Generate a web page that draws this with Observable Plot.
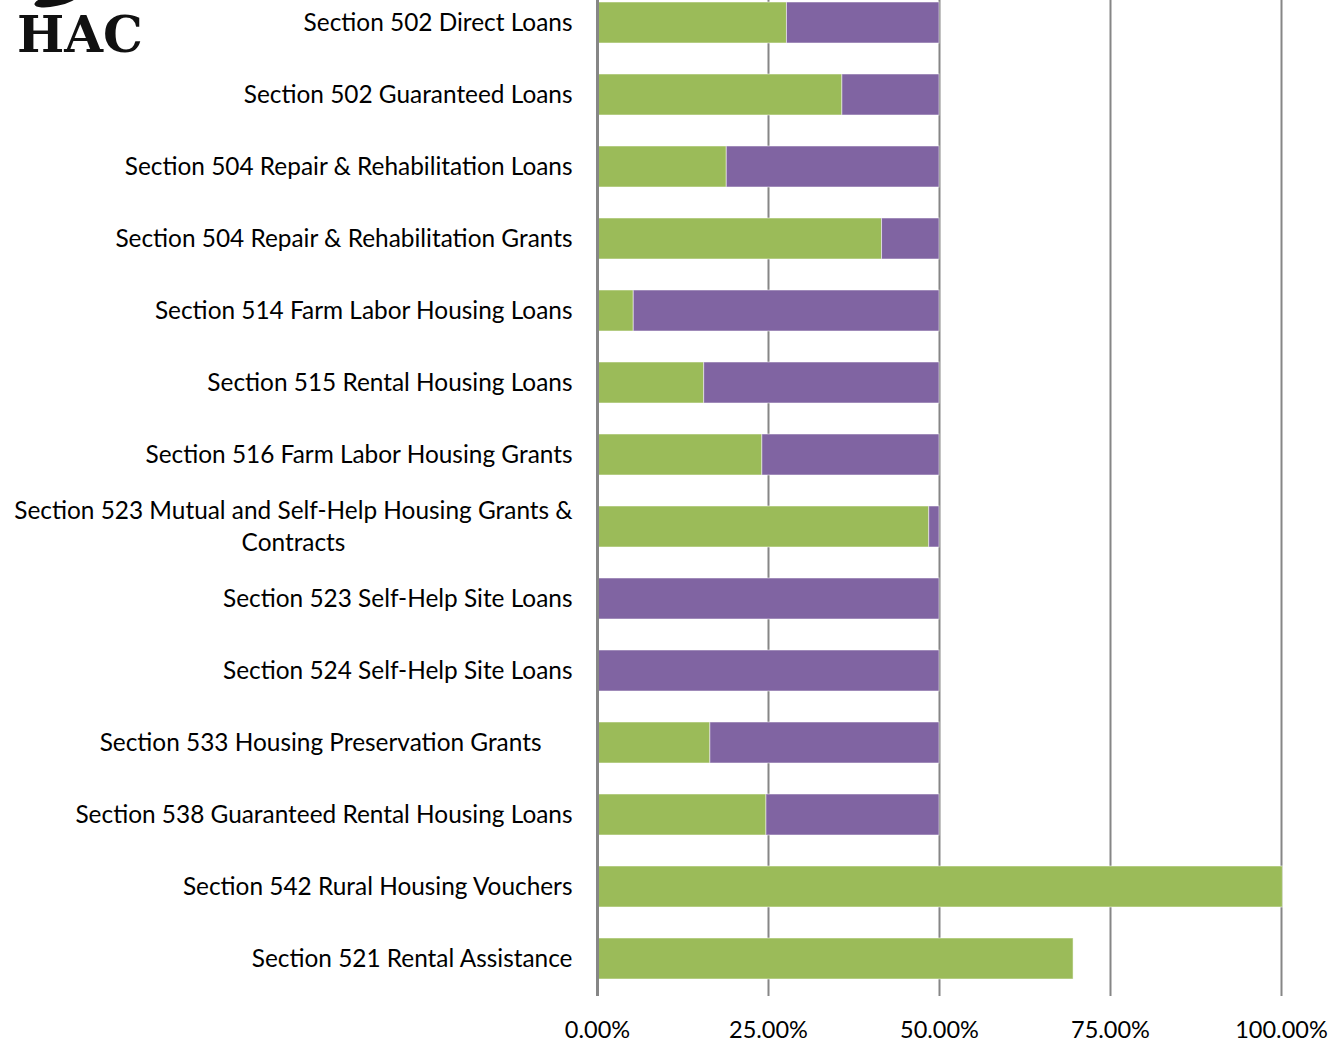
<!DOCTYPE html>
<html>
<head>
<meta charset="utf-8">
<script src="https://cdn.jsdelivr.net/npm/d3@7"></script>
<script src="https://cdn.jsdelivr.net/npm/@observablehq/plot@0.6"></script>
<style>
  html, body { margin: 0; padding: 0; background: #fff; }
  #wrap { position: relative; width: 1331px; height: 1043px; overflow: hidden; }
  #chart svg { display: block; margin-top: -15px; }
  #logo { position: absolute; left: 17px; top: 10px; font-family: "DejaVu Serif", serif; font-weight: bold; font-size: 50px; line-height: 1; letter-spacing: 0px; color: #111; }
  #swoosh { position: absolute; left: 34px; top: -6px; width: 44px; height: 12px; border-radius: 50%; background: #111; transform: rotate(-12deg); }
</style>
</head>
<body>
<div id="wrap">
  <div id="chart"></div>
  <div id="swoosh"></div>
  <div id="logo">HAC</div>
</div>
<script>
const categories = [
  "Section 502 Direct Loans",
  "Section 502 Guaranteed Loans",
  "Section 504 Repair & Rehabilitation Loans",
  "Section 504 Repair & Rehabilitation Grants",
  "Section 514 Farm Labor Housing Loans",
  "Section 515 Rental Housing Loans",
  "Section 516 Farm Labor Housing Grants",
  "Section 523 Mutual and Self-Help Housing Grants & Contracts",
  "Section 523 Self-Help Site Loans",
  "Section 524 Self-Help Site Loans",
  "Section 533 Housing Preservation Grants",
  "Section 538 Guaranteed Rental Housing Loans",
  "Section 542 Rural Housing Vouchers",
  "Section 521 Rental Assistance"
];
const greenValues  = [27.7, 35.8, 18.9, 41.6, 5.3, 15.6, 24.1, 48.5, 0, 0, 16.5, 24.7, 100.2, 69.6];
const purpleValues = [22.3, 14.2, 31.1, 8.4, 44.7, 34.4, 25.9, 1.5, 50, 50, 33.5, 25.3, 0, 0];
const seriesNames = ["Series 1", "Series 2"];
const xTicks = [0, 25, 50, 75, 100];

const rows = [];
categories.forEach((c, i) => {
  rows.push({category: c, series: seriesNames[0], value: greenValues[i]});
  rows.push({category: c, series: seriesNames[1], value: purpleValues[i]});
});

const FONT = "Lato, 'Open Sans', sans-serif";
const LABEL_SIZE = 24.4;
const special = "Section 523 Mutual and Self-Help Housing Grants & Contracts";
const shifted = "Section 533 Housing Preservation Grants";

const plot = Plot.plot({
  width: 1331,
  height: 1058,
  marginLeft: 597,
  marginRight: 50,
  marginTop: 0,
  marginBottom: 47,
  style: {fontFamily: FONT, fontSize: "21px", color: "#000", background: "#fff", overflow: "visible"},
  x: {domain: [0, 100], label: null, clamp: false},
  y: {domain: categories, paddingInner: 0.432, paddingOuter: 0.216, label: null, axis: null},
  color: {domain: seriesNames, range: ["#9BBB59", "#8064A2"]},
  marks: [
    Plot.gridX(xTicks, {stroke: "#868686", strokeOpacity: 1, strokeWidth: 2}),
    Plot.barX(rows, Plot.stackX({x: "value", y: "category", fill: "series", order: seriesNames, stroke: "#fff", strokeOpacity: 0.5, strokeWidth: 1})),
    Plot.ruleX([0], {stroke: "#868686", strokeWidth: 3}),
    Plot.axisX(xTicks, {tickSize: 0, tickPadding: 25, fontSize: 23.5, fill: "#000", label: null, tickFormat: d => d.toFixed(2) + "%"}),
    Plot.text(categories.filter(c => c !== special && c !== shifted), {
      y: d => d, x: () => 0, dx: -25, textAnchor: "end", fontSize: LABEL_SIZE, fill: "#000"
    }),
    Plot.text([shifted], {
      y: d => d, x: () => 0, dx: -56, textAnchor: "end", fontSize: LABEL_SIZE, fill: "#000"
    }),
    Plot.text([special], {
      y: d => d, x: () => 0, dx: -304, dy: -2, textAnchor: "middle", lineAnchor: "middle", lineHeight: 1.31, fontSize: LABEL_SIZE, fill: "#000",
      text: () => "Section 523 Mutual and Self-Help Housing Grants &\nContracts"
    })
  ]
});
document.getElementById("chart").appendChild(plot);
</script>
</body>
</html>
